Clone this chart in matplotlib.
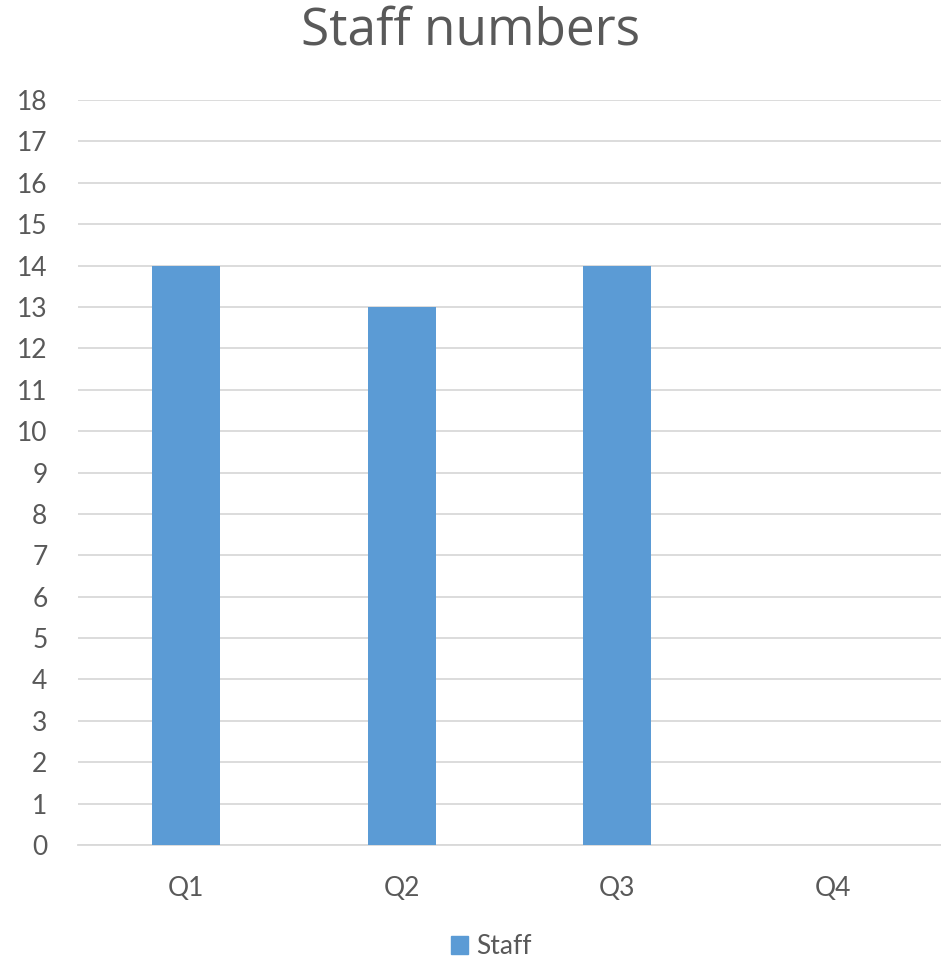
import matplotlib
matplotlib.use("Agg")
import matplotlib.pyplot as plt
from matplotlib.patches import Patch

categories = ["Q1", "Q2", "Q3", "Q4"]
staff = [14, 13, 14, 0]
yticks = list(range(0, 19))

fig = plt.figure(figsize=(9.41, 9.60), dpi=100)
ax = fig.add_axes([78/941, 115/960, 1 - 78/941, (845-100)/960])

x = list(range(len(categories)))
ax.bar(x, staff, width=0.315, color="#5B9BD5", zorder=3)
ax.set_xlim(-0.5, 3.5)
ax.set_ylim(0, 18)
ax.set_yticks(yticks)
ax.set_xticks(x)
ax.set_xticklabels(categories)
ax.grid(axis="y", color="#D9D9D9", linewidth=1.3, zorder=0)
for s in ["top", "right", "left"]:
    ax.spines[s].set_visible(False)
ax.spines["bottom"].set_color("#D9D9D9")
ax.spines["bottom"].set_linewidth(1.3)
ax.tick_params(axis="both", length=0, labelsize=19, labelcolor="#595959")
ax.tick_params(axis="y", pad=22)
ax.tick_params(axis="x", pad=22)
for lab in ax.get_xticklabels() + ax.get_yticklabels():
    lab.set_family(["Lato", "DejaVu Sans"])

fig.text(0.5, 1 - 31/960, "Staff numbers", ha="center", va="center",
         fontsize=37, color="#595959", family=["Open Sans", "DejaVu Sans"])

leg = fig.legend(handles=[Patch(color="#5B9BD5", label="Staff")],
                 loc="center", bbox_to_anchor=(0.522, 1 - 947/960), frameon=False,
                 handlelength=0.65, handleheight=0.65, handletextpad=0.3,
                 prop={"family": ["Lato", "DejaVu Sans"], "size": 19})
for t in leg.get_texts():
    t.set_color("#595959")

fig.savefig("out.png", dpi=100)
